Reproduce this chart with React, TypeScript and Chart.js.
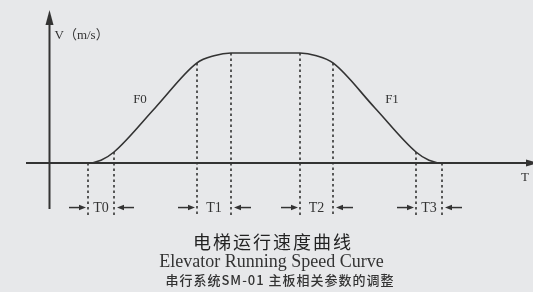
import React, { useEffect, useRef } from "react";
import { Chart, registerables } from "chart.js";

Chart.register(...registerables);

// Phase boundary times (s) and speed at those boundaries (m/s, normalised)
const boundaryTimes = [0, 2.6, 10.9, 14.3, 21.2, 24.5, 32.8, 35.4];
const boundarySpeeds = [0, 0.1, 0.91, 1.0, 1.0, 0.91, 0.1, 0];
const phaseLabels = ["T0", "T1", "T2", "T3"];

// Speed curve points
const curveTimes = [-1, 0, 1.3, 2.6, 6.75, 10.9, 12.6, 14.3, 21.2, 22.85, 24.5, 28.65, 32.8, 34.1, 35.4, 36.4];
const curveSpeeds = [0, 0, 0.025, 0.1, 0.505, 0.91, 0.975, 1.0, 1.0, 0.975, 0.91, 0.505, 0.1, 0.025, 0, 0];

// Curve segment labels
const segmentLabels = ["F0", "F1"];
const segmentLabelTimes = [5.2, 30.4];
const segmentLabelSpeeds = [0.58, 0.58];

const yAxisLabel = "V（m/s）";
const xAxisLabel = "T（s）";
const titleCn = "电梯运行速度曲线";
const titleEn = "Elevator Running Speed Curve";
const subtitleCn = "串行系统SM-01 主板相关参数的调整";

// axis extents (data units)
const X_MIN = -8.8, X_MAX = 44.5;
const Y_MIN = -1.1727, Y_MAX = 1.4818;
const Y_AXIS_T = -3.85;
const Y_AXIS_BOTTOM = -0.418;
const Y_AXIS_TOP = 1.39;
const X_AXIS_LEFT = -6.2;
const X_AXIS_RIGHT = 45.0;
const DASH_BOTTOM = -0.48;
const PHASE_ROW = -0.405;

const INK = "#333333";
const BG = "#e7e8ea";

function drawArrowHead(ctx: CanvasRenderingContext2D, tipX: number, tipY: number, dir: "left" | "right" | "up", len: number, half: number) {
  ctx.beginPath();
  if (dir === "right") {
    ctx.moveTo(tipX, tipY);
    ctx.lineTo(tipX - len, tipY - half);
    ctx.lineTo(tipX - len, tipY + half);
  } else if (dir === "left") {
    ctx.moveTo(tipX, tipY);
    ctx.lineTo(tipX + len, tipY - half);
    ctx.lineTo(tipX + len, tipY + half);
  } else {
    ctx.moveTo(tipX, tipY);
    ctx.lineTo(tipX - half, tipY + len);
    ctx.lineTo(tipX + half, tipY + len);
  }
  ctx.closePath();
  ctx.fill();
}

const diagramPlugin = {
  id: "diagram",
  beforeDraw(chart: any) {
    const { ctx, width, height } = chart;
    ctx.save();
    ctx.fillStyle = BG;
    ctx.fillRect(0, 0, width, height);
    ctx.restore();
  },
  beforeDatasetsDraw(chart: any) {
    const { ctx } = chart;
    const xs = chart.scales.x;
    const ys = chart.scales.y;
    ctx.save();
    ctx.strokeStyle = INK;
    ctx.fillStyle = INK;
    ctx.lineWidth = 2;
    // y axis
    const yx = xs.getPixelForValue(Y_AXIS_T);
    const yTop = ys.getPixelForValue(Y_AXIS_TOP);
    ctx.beginPath();
    ctx.moveTo(yx, ys.getPixelForValue(Y_AXIS_BOTTOM));
    ctx.lineTo(yx, yTop + 10);
    ctx.stroke();
    drawArrowHead(ctx, yx, yTop, "up", 15, 4);
    // x axis
    const xy = ys.getPixelForValue(0);
    const xRight = xs.getPixelForValue(X_AXIS_RIGHT);
    ctx.beginPath();
    ctx.moveTo(xs.getPixelForValue(X_AXIS_LEFT), xy);
    ctx.lineTo(xRight - 8, xy);
    ctx.stroke();
    drawArrowHead(ctx, xRight, xy, "right", 12, 3.5);
    ctx.restore();
  },
  afterDraw(chart: any) {
    const { ctx } = chart;
    const xs = chart.scales.x;
    const ys = chart.scales.y;
    ctx.save();
    ctx.fillStyle = INK;
    ctx.strokeStyle = INK;
    ctx.textBaseline = "middle";
    // axis labels
    ctx.font = "13px 'Liberation Serif', 'Noto Sans CJK SC', serif";
    ctx.textAlign = "left";
    ctx.fillText(yAxisLabel, xs.getPixelForValue(Y_AXIS_T) + 5, 36);
    ctx.fillText(xAxisLabel, 521, 178);
    // segment labels
    ctx.textAlign = "center";
    ctx.font = "13px 'Liberation Serif', serif";
    segmentLabels.forEach((s, i) => {
      ctx.fillText(s, xs.getPixelForValue(segmentLabelTimes[i]), ys.getPixelForValue(segmentLabelSpeeds[i]));
    });
    // phase labels with arrows
    const rowY = ys.getPixelForValue(PHASE_ROW);
    ctx.lineWidth = 1.5;
    ctx.font = "14px 'Liberation Serif', serif";
    phaseLabels.forEach((lab, i) => {
      const xa = xs.getPixelForValue(boundaryTimes[i * 2]);
      const xb = xs.getPixelForValue(boundaryTimes[i * 2 + 1]);
      ctx.fillText(lab, (xa + xb) / 2, rowY + 1);
      // left arrow pointing right
      ctx.beginPath();
      ctx.moveTo(xa - 19, rowY);
      ctx.lineTo(xa - 6, rowY);
      ctx.stroke();
      drawArrowHead(ctx, xa - 2, rowY, "right", 7, 2.8);
      // right arrow pointing left
      ctx.beginPath();
      ctx.moveTo(xb + 7, rowY);
      ctx.lineTo(xb + 20, rowY);
      ctx.stroke();
      drawArrowHead(ctx, xb + 3, rowY, "left", 7, 2.8);
    });
    // titles
    ctx.textAlign = "center";
    ctx.fillStyle = "#222";
    ctx.font = "18px 'Noto Sans CJK SC', sans-serif";
    (ctx as any).letterSpacing = "2px";
    ctx.fillText(titleCn, 273, 242);
    (ctx as any).letterSpacing = "0px";
    ctx.fillStyle = "#333";
    ctx.font = "18px 'Liberation Serif', serif";
    ctx.textBaseline = "alphabetic";
    ctx.fillText(titleEn, 271.5, 267);
    ctx.textBaseline = "middle";
    ctx.fillStyle = "#333";
    ctx.font = "500 13px 'Noto Sans CJK SC', sans-serif";
    (ctx as any).letterSpacing = "1px";
    ctx.fillText(subtitleCn, 280, 280);
    (ctx as any).letterSpacing = "0px";
    ctx.restore();
  },
};

export default function App() {
  const ref = useRef<HTMLCanvasElement | null>(null);
  useEffect(() => {
    document.body.style.margin = "0";
    document.body.style.background = BG;
    if (!ref.current) return;
    const dashSets = boundaryTimes.map((t, i) => ({
      type: "line" as const,
      data: [
        { x: t, y: boundarySpeeds[i] },
        { x: t, y: DASH_BOTTOM },
      ],
      borderColor: INK,
      borderWidth: 1.6,
      borderDash: [2.5, 3],
      pointRadius: 0,
      fill: false,
    }));
    const chart = new Chart(ref.current, {
      type: "line",
      data: {
        datasets: [
          {
            data: curveTimes.map((t, i) => ({ x: t, y: curveSpeeds[i] })),
            borderColor: INK,
            borderWidth: 1.6,
            pointRadius: 0,
            cubicInterpolationMode: "monotone",
            fill: false,
          },
          ...dashSets,
        ] as any,
      },
      options: {
        responsive: false,
        animation: false,
        layout: { padding: 0 },
        plugins: { legend: { display: false }, tooltip: { enabled: false }, title: { display: false } },
        scales: {
          x: { type: "linear", min: X_MIN, max: X_MAX, display: false },
          y: { type: "linear", min: Y_MIN, max: Y_MAX, display: false },
        },
      },
      plugins: [diagramPlugin],
    });
    return () => chart.destroy();
  }, []);
  return (
    <div style={{ width: 533, height: 292 }}>
      <canvas ref={ref} width={533} height={292} style={{ display: "block" }} />
    </div>
  );
}
